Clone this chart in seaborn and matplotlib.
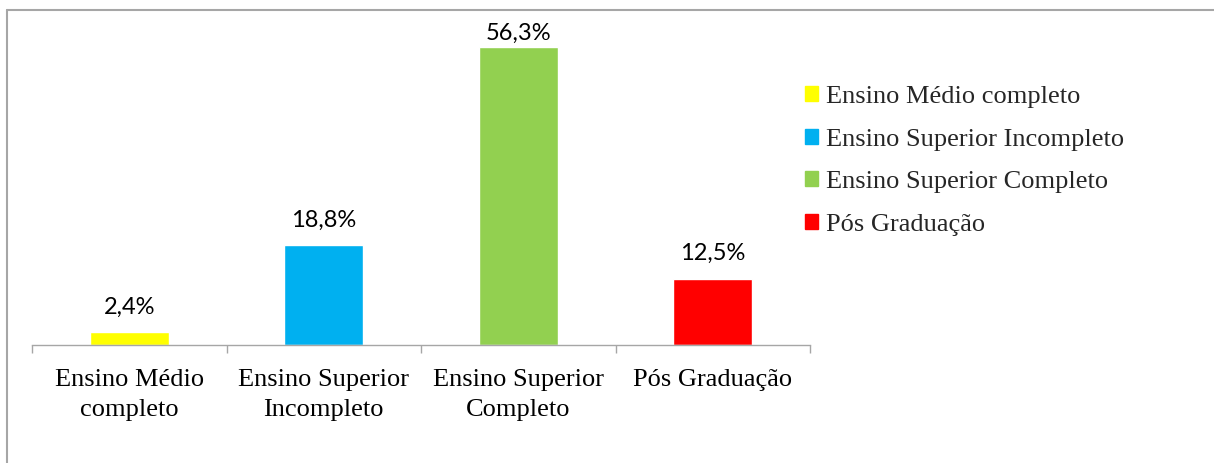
import matplotlib
matplotlib.use("Agg")
import matplotlib.pyplot as plt
from matplotlib.lines import Line2D
import seaborn as sns

categories = ["Ensino Médio\ncompleto", "Ensino Superior\nIncompleto",
              "Ensino Superior\nCompleto", "Pós Graduação"]
legend_labels = ["Ensino Médio completo", "Ensino Superior Incompleto",
                 "Ensino Superior Completo", "Pós Graduação"]
values = [2.4, 18.8, 56.3, 12.5]
colors = ["#FFFF00", "#00B0F0", "#92D050", "#FF0000"]

sns.set_theme(style="white")
plt.rcParams["font.family"] = ["Liberation Serif", "DejaVu Serif"]

W, H = 1214, 463
fig = plt.figure(figsize=(W / 100, H / 100), dpi=100)
ax = fig.add_axes([32 / W, (H - 345) / H, (810 - 32) / W, (345 - 20) / H])

sns.barplot(x=legend_labels, y=values, hue=legend_labels, palette=colors,
            width=0.405, saturation=1, legend=False, ax=ax)

# tallest label is squeezed against the top of the plot, like the original
pads = [10.5, 10.5, 2.5, 10.5]
for cont, v, p in zip(ax.containers, values, pads):
    ax.bar_label(cont, labels=[f"{v:.1f}%".replace(".", ",")], padding=p,
                 fontsize=17, family="Lato", color="#000000")

ax.set_xlim(-0.5, 3.5)
ax.set_ylim(0, 61.4)
ax.set_xticks(range(4))
ax.set_xticklabels(categories, fontsize=19, color="black", linespacing=1.45)
ax.set_xticks([-0.5, 0.5, 1.5, 2.5, 3.5], minor=True)
ax.tick_params(axis="x", which="major", length=0, pad=17.5)
ax.tick_params(axis="x", which="minor", length=5.5, width=1, color="#A6A6A6",
               direction="out", bottom=True)
ax.set_yticks([])
ax.set_xlabel("")
ax.set_ylabel("")
for s in ["top", "right", "left"]:
    ax.spines[s].set_visible(False)
ax.spines["bottom"].set_color("#A6A6A6")
ax.spines["bottom"].set_linewidth(1.0)

handles = [plt.Rectangle((0, 0), 1, 1, color=c) for c in colors]
fig.legend(handles, legend_labels, loc="upper left",
           bbox_to_anchor=(805 / W, 1 - 86 / H), frameon=False,
           fontsize=19, handlelength=0.5, handleheight=0.5,
           handletextpad=0.28, labelspacing=0.78, borderpad=0, borderaxespad=0)

# outer chart border (left and top visible)
fig.add_artist(Line2D([7 / W, 7 / W], [0, 1 - 10 / H], color="#A6A6A6", lw=1.5,
                      transform=fig.transFigure))
fig.add_artist(Line2D([7 / W, 1], [1 - 10 / H, 1 - 10 / H], color="#A6A6A6", lw=1.5,
                      transform=fig.transFigure))

fig.savefig("out.png", dpi=100)
